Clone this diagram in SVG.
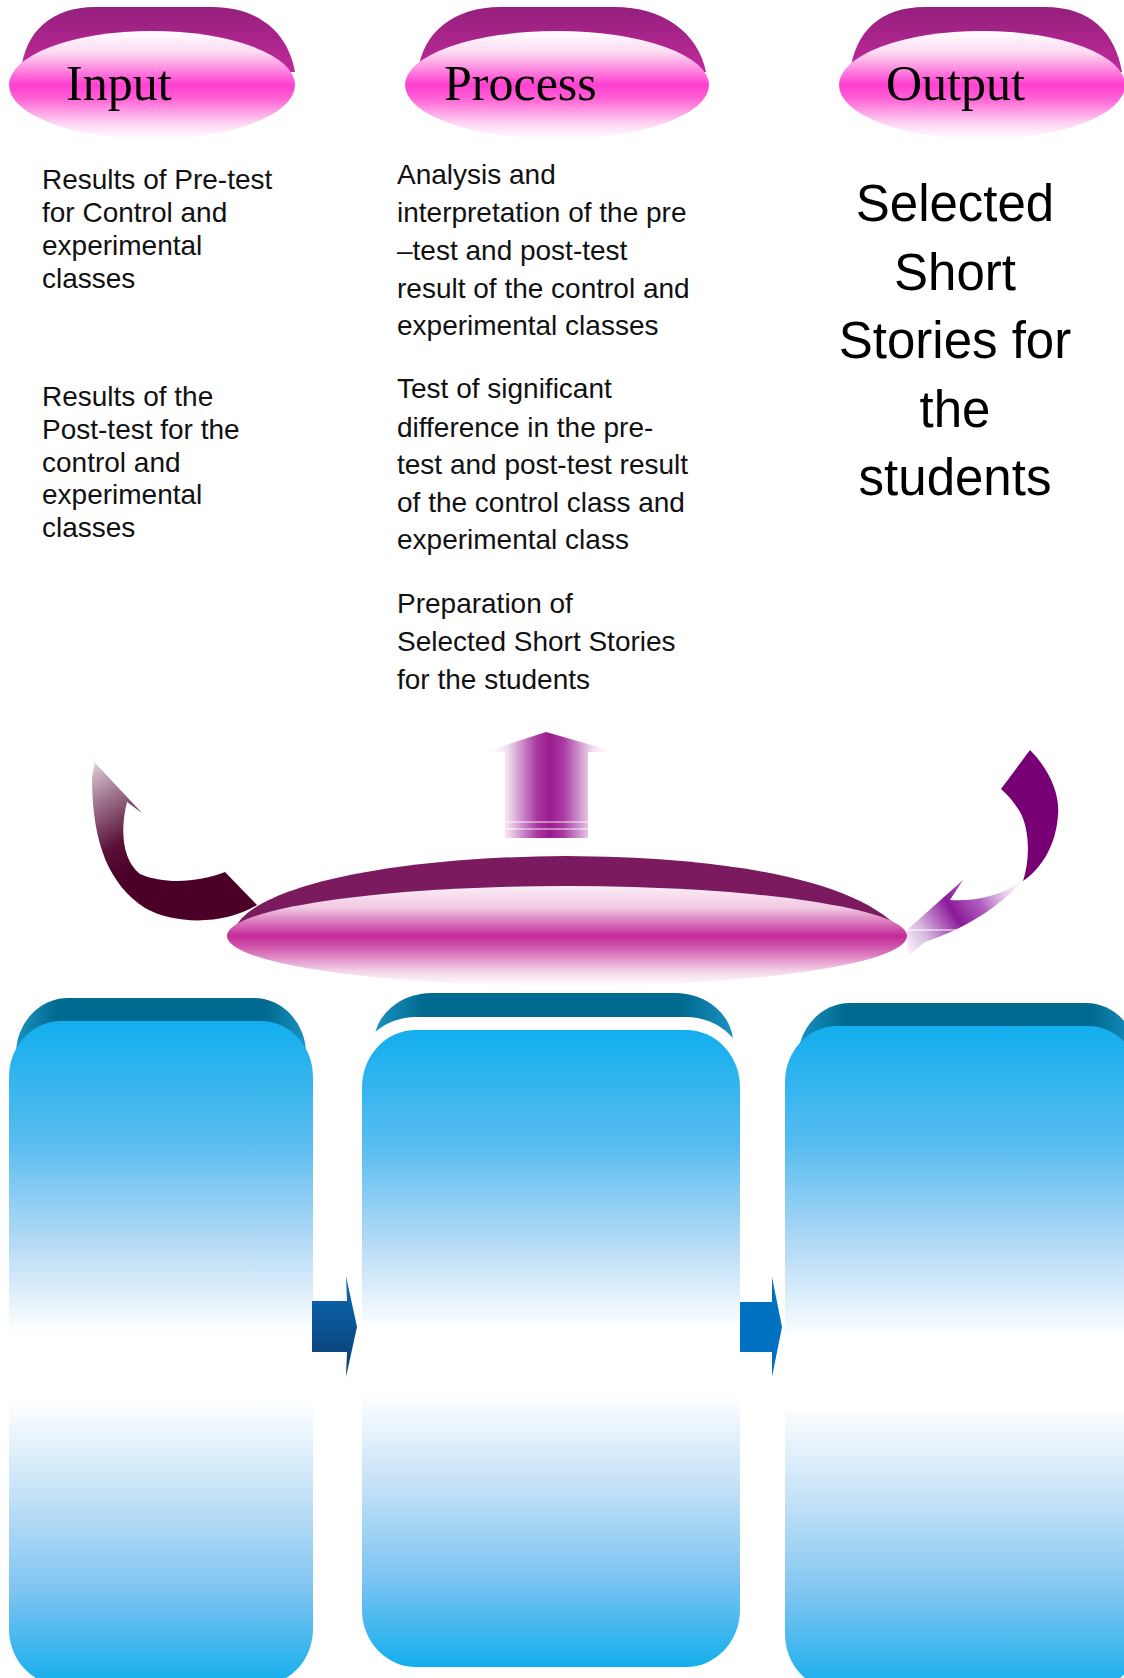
<svg xmlns="http://www.w3.org/2000/svg" width="1124" height="1678" viewBox="0 0 1124 1678">
<style>
.hdr{font-family:"Liberation Serif","Times New Roman",serif;font-size:50px;fill:#000}
.txt{font-family:"Liberation Sans",Arial,sans-serif;font-size:28px;fill:#111}
.big{font-family:"Liberation Sans",Arial,sans-serif;font-size:51px;fill:#000;text-anchor:middle}
</style>
<defs>
<linearGradient id="capGrad" x1="0" y1="0" x2="0" y2="1">
<stop offset="0" stop-color="#941f7e"/><stop offset="1" stop-color="#c02a98"/>
</linearGradient>
<linearGradient id="pinkGrad" x1="0" y1="0" x2="0" y2="1">
<stop offset="0" stop-color="#ffffff"/><stop offset="0.2" stop-color="#fcd9f2"/>
<stop offset="0.5" stop-color="#ff3fd0"/><stop offset="0.62" stop-color="#ff5fd6"/>
<stop offset="0.85" stop-color="#fdd2f1"/><stop offset="1" stop-color="#ffffff"/>
</linearGradient>
<linearGradient id="discGrad" x1="0" y1="0" x2="0" y2="1">
<stop offset="0" stop-color="#fbeef6"/><stop offset="0.22" stop-color="#f0c8e2"/>
<stop offset="0.5" stop-color="#c42a98"/><stop offset="0.62" stop-color="#d25aae"/>
<stop offset="0.85" stop-color="#f3d2e8"/><stop offset="1" stop-color="#ffffff"/>
</linearGradient>
<linearGradient id="upGrad" gradientUnits="userSpaceOnUse" x1="484" y1="0" x2="616" y2="0">
<stop offset="0" stop-color="#ffffff" stop-opacity="0"/><stop offset="0.18" stop-color="#f0dcef"/>
<stop offset="0.4" stop-color="#a83aa2"/><stop offset="0.5" stop-color="#9a1a8e"/>
<stop offset="0.6" stop-color="#a83aa2"/><stop offset="0.82" stop-color="#f0dcef"/>
<stop offset="1" stop-color="#ffffff" stop-opacity="0"/>
</linearGradient>
<linearGradient id="leftArr" gradientUnits="userSpaceOnUse" x1="90" y1="752" x2="170" y2="885">
<stop offset="0" stop-color="#f2eaee"/><stop offset="0.3" stop-color="#a07890"/>
<stop offset="0.6" stop-color="#5a1038"/><stop offset="0.8" stop-color="#4b0028"/>
<stop offset="1" stop-color="#4b0028"/>
</linearGradient>
<linearGradient id="rightArr" gradientUnits="userSpaceOnUse" x1="1025" y1="880" x2="905" y2="955">
<stop offset="0" stop-color="#ffffff" stop-opacity="0.3"/><stop offset="0.35" stop-color="#b060c0"/>
<stop offset="0.55" stop-color="#8c1a9a"/><stop offset="0.8" stop-color="#d8b8e0"/>
<stop offset="1" stop-color="#ffffff"/>
</linearGradient>
<linearGradient id="blueGrad" x1="0" y1="0" x2="0" y2="1">
<stop offset="0" stop-color="#12aeee"/><stop offset="0.18" stop-color="#58bcf0"/>
<stop offset="0.34" stop-color="#b8dcf6"/><stop offset="0.47" stop-color="#ffffff"/>
<stop offset="0.57" stop-color="#ffffff"/><stop offset="0.72" stop-color="#c2e0f7"/>
<stop offset="0.86" stop-color="#7cc4f1"/><stop offset="1" stop-color="#14aeec"/>
</linearGradient>
<linearGradient id="tealGrad" x1="0" y1="0" x2="1" y2="0">
<stop offset="0" stop-color="#1a92c2"/><stop offset="0.14" stop-color="#006a90"/>
<stop offset="0.86" stop-color="#006a90"/><stop offset="1" stop-color="#1a92c2"/>
</linearGradient>
<linearGradient id="navyGrad" x1="0" y1="0" x2="0" y2="1">
<stop offset="0" stop-color="#0b6cb8"/><stop offset="1" stop-color="#0a3a6c"/>
</linearGradient>
</defs>

<g id="input-header">
<path d="M21 72 C24 32 52 7 95 7 L212 7 C258 7 288 32 295 72 Z" fill="url(#capGrad)"/>
<ellipse cx="152" cy="85" rx="143" ry="54" fill="url(#pinkGrad)"/>
<text class="hdr" x="66" y="100">Input</text>
</g>
<g id="process-header">
<path d="M418 72 C422 32 455 7 500 7 L615 7 C662 7 698 32 706 72 Z" fill="url(#capGrad)"/>
<ellipse cx="557" cy="85" rx="152" ry="54" fill="url(#pinkGrad)"/>
<text class="hdr" x="444" y="100">Process</text>
</g>
<g id="output-header">
<path d="M850 72 C855 32 880 7 925 7 L1045 7 C1090 7 1115 32 1122 72 Z" fill="url(#capGrad)"/>
<ellipse cx="982" cy="85" rx="143" ry="54" fill="url(#pinkGrad)"/>
<text class="hdr" x="886" y="100">Output</text>
</g>

<g id="input-text">
<text class="txt" x="42" y="189">Results of Pre-test</text>
<text class="txt" x="42" y="222">for Control and</text>
<text class="txt" x="42" y="255">experimental</text>
<text class="txt" x="42" y="288">classes</text>
<text class="txt" x="42" y="406">Results of the</text>
<text class="txt" x="42" y="439">Post-test for the</text>
<text class="txt" x="42" y="472">control and</text>
<text class="txt" x="42" y="504">experimental</text>
<text class="txt" x="42" y="537">classes</text>
</g>
<g id="process-text">
<text class="txt" x="397" y="184">Analysis and</text>
<text class="txt" x="397" y="222">interpretation of the pre</text>
<text class="txt" x="397" y="260">–test and post-test</text>
<text class="txt" x="397" y="298">result of the control and</text>
<text class="txt" x="397" y="335">experimental classes</text>
<text class="txt" x="397" y="398">Test of significant</text>
<text class="txt" x="397" y="437">difference in the pre-</text>
<text class="txt" x="397" y="474">test and post-test result</text>
<text class="txt" x="397" y="512">of the control class and</text>
<text class="txt" x="397" y="549">experimental class</text>
<text class="txt" x="397" y="613">Preparation of</text>
<text class="txt" x="397" y="651">Selected Short Stories</text>
<text class="txt" x="397" y="689">for the students</text>
</g>
<g id="output-text">
<text class="big" x="955" y="221">Selected</text>
<text class="big" x="955" y="290">Short</text>
<text class="big" x="955" y="358">Stories for</text>
<text class="big" x="955" y="427">the</text>
<text class="big" x="955" y="495">students</text>
</g>

<g id="center-disc">
<path d="M236 926 C260 884 400 857 566 856 C735 857 866 882 905 936 Z" fill="#7b1a5f"/>
<ellipse cx="567" cy="936" rx="340" ry="50" fill="url(#discGrad)"/>
</g>

<g id="box1">
<rect x="16" y="998" width="290" height="200" rx="52" ry="56" fill="url(#tealGrad)"/>
<rect x="9" y="1021" width="304" height="664" rx="52" ry="56" fill="url(#blueGrad)"/>
</g>
<g id="box2">
<rect x="374" y="993" width="359" height="200" rx="58" ry="50" fill="url(#tealGrad)"/>
<rect x="356" y="1017" width="390" height="660" rx="60" ry="56" fill="#ffffff"/>
<rect x="362" y="1030" width="378" height="637" rx="54" ry="57" fill="url(#blueGrad)"/>
</g>
<g id="box3">
<rect x="798" y="1003" width="340" height="200" rx="52" ry="56" fill="url(#tealGrad)"/>
<rect x="785" y="1026" width="355" height="664" rx="52" ry="56" fill="url(#blueGrad)"/>
</g>

<g id="connectors">
<g id="up-arrow">
<polygon points="546,732 616,752 588,752 588,838 505,838 505,752 484,752" fill="url(#upGrad)"/>
<line x1="505" y1="822" x2="588" y2="822" stroke="#ffffff" stroke-opacity="0.6" stroke-width="1.5"/>
<line x1="505" y1="829" x2="588" y2="829" stroke="#ffffff" stroke-opacity="0.6" stroke-width="1.5"/>
</g>
<path id="left-arrow" d="M83 750 L142 813 L127 802 C120 830 122 860 140 874 C165 885 200 882 225 872 L257 905 C225 925 175 925 145 908 C110 885 92 845 92 777 L95 762 Z" fill="url(#leftArr)"/>
<g id="right-arrow">
<path d="M1030 750 C1050 770 1060 795 1058 815 C1056 845 1042 868 1023 881 C1030 860 1030 830 1020 812 C1014 802 1008 795 1001 789 Z" fill="#760074"/>
<path d="M1023 881 C1000 905 970 927 925 942 L907 957 L907 930 L963 880 L950 900 C975 902 1000 895 1015 885 Z" fill="url(#rightArr)"/>
<line x1="907" y1="930" x2="985" y2="930" stroke="#ffffff" stroke-opacity="0.7" stroke-width="1.5"/>
</g>
<polygon id="arrow-1-2" points="312,1301 347,1301 346,1276 357,1327 346,1377 347,1352 312,1352" fill="url(#navyGrad)"/>
<polygon id="arrow-2-3" points="740,1302 772,1302 772,1277 782,1327 772,1377 772,1352 740,1352" fill="#0070c0"/>
</g>
</svg>
